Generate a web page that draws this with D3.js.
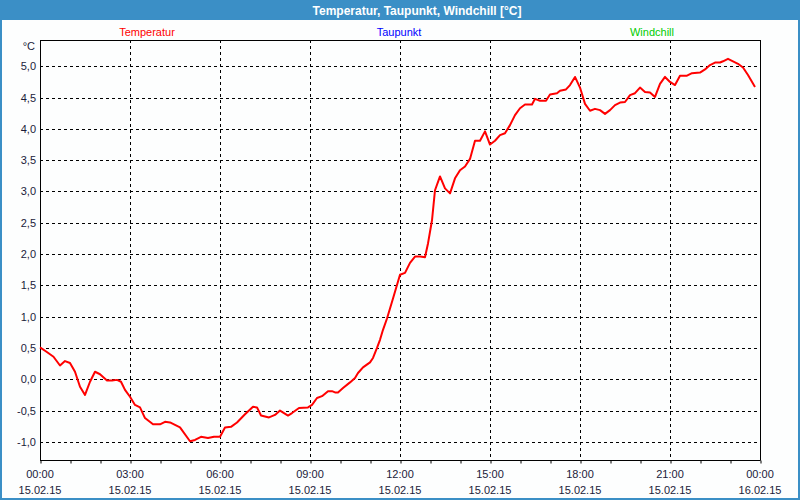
<!DOCTYPE html>
<html>
<head>
<meta charset="utf-8">
<script src="https://cdn.jsdelivr.net/npm/d3@7"></script>
<style>
  html, body { margin: 0; padding: 0; background: #ffffff; }
  svg { display: block; }
  text { font-family: "Liberation Sans", Arial, sans-serif; }
</style>
</head>
<body>
<svg id="chart" width="800" height="500"></svg>
<script>
const chartTitle = "Temperatur, Taupunkt, Windchill [°C]";
const seriesNames = ["Temperatur", "Taupunkt", "Windchill"];
const seriesColors = ["#ff0000", "#0000ff", "#00cc00"];
const yUnit = "°C";
const yTicks = [-1.0, -0.5, 0.0, 0.5, 1.0, 1.5, 2.0, 2.5, 3.0, 3.5, 4.0, 4.5, 5.0];
const dayStart = "2015-02-15T00:00";
const dayEnd = "2015-02-16T00:00";

const times = ["00:00","00:13","00:27","00:40","00:50","01:00","01:10","01:20","01:30","01:40","01:50","02:00","02:14","02:24","02:34","02:42","02:50","03:00","03:10","03:20","03:30","03:46","04:00","04:10","04:20","04:40","05:00","05:10","05:22","05:36","05:48","06:00","06:10","06:22","06:34","06:50","07:06","07:14","07:22","07:38","07:50","08:00","08:16","08:24","08:38","08:56","09:04","09:14","09:24","09:36","09:44","09:50","09:56","10:06","10:20","10:30","10:36","10:46","11:00","11:06","11:14","11:20","11:26","11:34","11:46","12:00","12:10","12:20","12:30","12:40","12:50","12:56","13:04","13:10","13:20","13:30","13:40","13:50","14:00","14:10","14:20","14:30","14:40","14:50","15:00","15:10","15:20","15:30","15:40","15:50","16:00","16:10","16:24","16:30","16:40","16:52","17:00","17:14","17:20","17:32","17:40","17:50","18:00","18:10","18:20","18:30","18:40","18:50","19:00","19:10","19:20","19:30","19:40","19:50","20:00","20:10","20:20","20:30","20:40","20:50","21:00","21:10","21:20","21:34","21:44","22:00","22:10","22:20","22:30","22:40","22:46","22:56","23:06","23:16","23:26","23:36","23:50"];
const temperatur = [0.51,0.44,0.36,0.22,0.29,0.26,0.12,-0.12,-0.25,-0.04,0.12,0.08,-0.02,-0.02,-0.01,-0.04,-0.17,-0.28,-0.41,-0.45,-0.62,-0.72,-0.72,-0.68,-0.69,-0.77,-0.99,-0.97,-0.92,-0.94,-0.92,-0.92,-0.77,-0.76,-0.69,-0.56,-0.44,-0.45,-0.58,-0.61,-0.57,-0.50,-0.58,-0.54,-0.46,-0.45,-0.41,-0.30,-0.27,-0.19,-0.19,-0.21,-0.21,-0.14,-0.05,0.02,0.10,0.19,0.27,0.34,0.50,0.63,0.79,0.97,1.29,1.67,1.70,1.86,1.96,1.96,1.95,2.17,2.54,3.02,3.24,3.05,2.97,3.21,3.34,3.40,3.52,3.81,3.81,3.96,3.75,3.81,3.90,3.93,4.06,4.22,4.33,4.39,4.39,4.48,4.45,4.45,4.55,4.57,4.61,4.63,4.70,4.83,4.66,4.40,4.29,4.32,4.30,4.24,4.30,4.38,4.42,4.43,4.54,4.57,4.66,4.59,4.58,4.51,4.72,4.83,4.75,4.70,4.85,4.85,4.89,4.90,4.95,5.02,5.06,5.06,5.08,5.12,5.08,5.04,4.98,4.86,4.67];

const svg = d3.select("#chart");
const W = 800, H = 500;
const plot = { left: 40, right: 760, top: 40, bottom: 460 };

// window frame
svg.append("rect").attr("x", 0).attr("y", 0).attr("width", W).attr("height", H).attr("fill", "#fdfefe");
svg.append("rect").attr("x", 0).attr("y", 0).attr("width", W).attr("height", 20).attr("fill", "#3b8fc6");
svg.append("rect").attr("x", 0).attr("y", 0).attr("width", 2).attr("height", H).attr("fill", "#3b8fc6");
svg.append("rect").attr("x", W - 2).attr("y", 0).attr("width", 2).attr("height", H).attr("fill", "#3b8fc6");
svg.append("rect").attr("x", 0).attr("y", H - 2).attr("width", W).attr("height", 2).attr("fill", "#3b8fc6");

svg.append("text").attr("x", 417).attr("y", 15).attr("text-anchor", "middle")
  .attr("fill", "#ffffff").attr("font-weight", "bold").attr("font-size", "12px").text(chartTitle);

// legend
const legendX = [147, 399, 652];
seriesNames.forEach((n, i) => {
  svg.append("text").attr("x", legendX[i]).attr("y", 35.5).attr("text-anchor", "middle")
    .attr("fill", seriesColors[i]).attr("font-size", "11px").text(n);
});

const parseT = d3.timeParse("%Y-%m-%dT%H:%M");
const t0 = parseT(dayStart), t1 = parseT(dayEnd);
const x = d3.scaleTime().domain([t0, t1]).range([plot.left, plot.right]);
const y = d3.scaleLinear().domain([-1.29, 5.42]).range([plot.bottom, plot.top]);

const fmtNum = v => d3.format(".1f")(v).replace(".", ",").replace("−", "-");
const labelColor = "#1b1b3a";

// horizontal gridlines
svg.append("g").selectAll("line").data(yTicks).join("line")
  .attr("x1", plot.left).attr("x2", plot.right)
  .attr("y1", d => Math.round(y(d)) + 0.5).attr("y2", d => Math.round(y(d)) + 0.5)
  .attr("stroke", "#000").attr("stroke-width", 1).attr("stroke-dasharray", "3,3");

// vertical gridlines every 3h
const majorTicks = d3.timeHour.every(3).range(t0, d3.timeMinute.offset(t1, 1));
svg.append("g").selectAll("line").data(majorTicks.filter(d => +d !== +t0 && +d !== +t1)).join("line")
  .attr("x1", d => Math.round(x(d)) + 0.5).attr("x2", d => Math.round(x(d)) + 0.5)
  .attr("y1", plot.top).attr("y2", plot.bottom)
  .attr("stroke", "#000").attr("stroke-width", 1).attr("stroke-dasharray", "3,3");

// frame lines
svg.append("line").attr("x1", plot.left + 0.5).attr("x2", plot.left + 0.5).attr("y1", plot.top).attr("y2", plot.bottom + 0.5).attr("stroke", "#000");
svg.append("line").attr("x1", plot.right + 0.5).attr("x2", plot.right + 0.5).attr("y1", plot.top).attr("y2", plot.bottom + 0.5).attr("stroke", "#000");
svg.append("line").attr("x1", plot.left).attr("x2", plot.right + 1).attr("y1", plot.top + 0.5).attr("y2", plot.top + 0.5).attr("stroke", "#000");

// x axis
const xAxis = d3.axisBottom(x).ticks(d3.timeHour.every(1)).tickSize(3).tickFormat("");
const gx = svg.append("g").attr("transform", `translate(0.5,${plot.bottom + 0.5})`).call(xAxis);
gx.select(".domain").attr("d", `M${plot.left - 0.5},0H${plot.right}`).attr("stroke", "#000");
gx.selectAll(".tick line").attr("stroke", "#000");

const fmtTime = d3.timeFormat("%H:%M"), fmtDate = d3.timeFormat("%d.%m.%y");
const xl = svg.append("g").selectAll("g").data(majorTicks).join("g")
  .attr("transform", d => `translate(${x(d)},0)`);
xl.append("text").attr("y", 478).attr("text-anchor", "middle").attr("font-size", "11px")
  .attr("fill", labelColor).text(d => fmtTime(d));
xl.append("text").attr("y", 494).attr("text-anchor", "middle").attr("font-size", "11px")
  .attr("fill", labelColor).text(d => fmtDate(d));

// y labels
svg.append("g").selectAll("text").data(yTicks).join("text")
  .attr("x", 36).attr("y", d => y(d) + 4).attr("text-anchor", "end")
  .attr("font-size", "11px").attr("fill", labelColor).text(d => fmtNum(d));
svg.append("text").attr("x", 35).attr("y", 50).attr("text-anchor", "end")
  .attr("font-size", "11px").attr("fill", labelColor).text(yUnit);

// temperature line
const data = times.map((t, i) => ({ t: parseT("2015-02-15T" + t), v: temperatur[i] }));
const line = d3.line().x(d => x(d.t)).y(d => y(d.v));
svg.append("path").datum(data).attr("d", line)
  .attr("fill", "none").attr("stroke", seriesColors[0]).attr("stroke-width", 2)
  .attr("stroke-linejoin", "round");
</script>
</body>
</html>
